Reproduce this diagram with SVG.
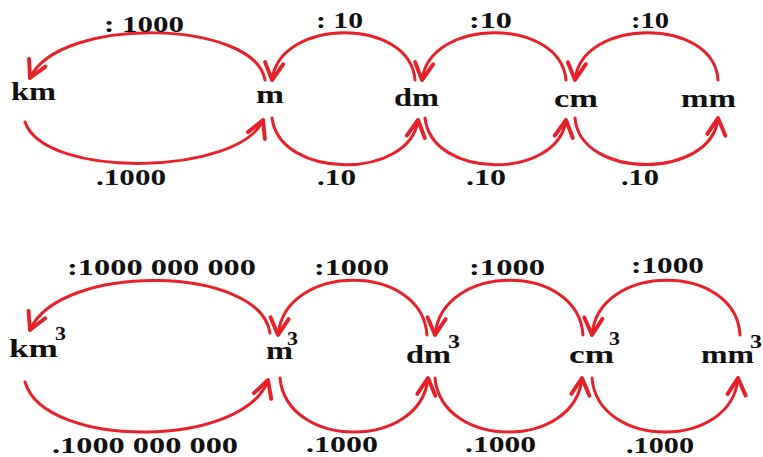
<svg xmlns="http://www.w3.org/2000/svg" width="763" height="457" viewBox="0 0 763 457">
<defs>
<style>
.t{font-family:"Liberation Serif","Times New Roman",serif;font-weight:bold;font-size:23px;fill:#111;}
.n{font-family:"Liberation Serif","Times New Roman",serif;font-weight:bold;font-size:25px;fill:#111;}
.s{font-family:"Liberation Serif","Times New Roman",serif;font-weight:bold;font-size:18px;fill:#111;}
.c{fill:none;stroke:#e8202a;stroke-width:3;stroke-linecap:round;marker-end:url(#ah);}
</style>
<marker id="ah" markerUnits="userSpaceOnUse" markerWidth="26" markerHeight="26" viewBox="-16 -10 20 20" refX="0" refY="0" orient="auto">
<path d="M -13 -7 L 0 0 L -13 7" fill="none" stroke="#e8202a" stroke-width="3" stroke-linecap="round" stroke-linejoin="round"/>
</marker>
</defs>
<rect width="763" height="457" fill="#fff"/>
<g id="connectors">
<g id="e-m-km"><path class="c" d="M 265 80 C 255 20, 60 15, 30 78"/><text class="t" x="104" y="32" textLength="80" lengthAdjust="spacingAndGlyphs">: 1000</text></g>
<g id="e-km-m"><path class="c" d="M 25 122 C 45 180, 240 175, 263 120"/><text class="t" x="96" y="185" textLength="70" lengthAdjust="spacingAndGlyphs">.1000</text></g>
<g id="e-dm-m"><path class="c" d="M 415 80 C 410 17, 280 17, 272 80"/><text class="t" x="316" y="28" textLength="47" lengthAdjust="spacingAndGlyphs">: 10</text></g>
<g id="e-m-dm"><path class="c" d="M 272 118 C 280 180, 410 180, 418 120"/><text class="t" x="317" y="185" textLength="39" lengthAdjust="spacingAndGlyphs">.10</text></g>
<g id="e-cm-dm"><path class="c" d="M 566 80 C 560 17, 430 17, 422 80"/><text class="t" x="469" y="28" textLength="43" lengthAdjust="spacingAndGlyphs">:10</text></g>
<g id="e-dm-cm"><path class="c" d="M 425 118 C 432 180, 558 180, 566 120"/><text class="t" x="466" y="185" textLength="40" lengthAdjust="spacingAndGlyphs">.10</text></g>
<g id="e-mm-cm"><path class="c" d="M 718 80 C 714 17, 582 17, 575 80"/><text class="t" x="631" y="28" textLength="38" lengthAdjust="spacingAndGlyphs">:10</text></g>
<g id="e-cm-mm"><path class="c" d="M 575 118 C 580 180, 712 180, 718 118"/><text class="t" x="621" y="185" textLength="38" lengthAdjust="spacingAndGlyphs">.10</text></g>
<g id="e-m3-km3"><path class="c" d="M 270 333 C 260 265, 60 262, 30 330"/><text class="t" x="67" y="275" textLength="189" lengthAdjust="spacingAndGlyphs">:1000 000 000</text></g>
<g id="e-km3-m3"><path class="c" d="M 25 382 C 45 450, 245 448, 268 380"/><text class="t" x="52" y="453" textLength="186" lengthAdjust="spacingAndGlyphs">.1000 000 000</text></g>
<g id="e-dm3-m3"><path class="c" d="M 427 335 C 422 262, 285 262, 278 335"/><text class="t" x="314" y="275" textLength="75" lengthAdjust="spacingAndGlyphs">:1000</text></g>
<g id="e-m3-dm3"><path class="c" d="M 280 378 C 287 450, 421 450, 428 378"/><text class="t" x="306" y="452" textLength="72" lengthAdjust="spacingAndGlyphs">.1000</text></g>
<g id="e-cm3-dm3"><path class="c" d="M 583 335 C 578 262, 442 262, 435 335"/><text class="t" x="469" y="275" textLength="76" lengthAdjust="spacingAndGlyphs">:1000</text></g>
<g id="e-dm3-cm3"><path class="c" d="M 435 378 C 442 450, 575 450, 582 378"/><text class="t" x="465" y="452" textLength="71" lengthAdjust="spacingAndGlyphs">.1000</text></g>
<g id="e-mm3-cm3"><path class="c" d="M 740 335 C 736 262, 598 262, 592 335"/><text class="t" x="631" y="273" textLength="73" lengthAdjust="spacingAndGlyphs">:1000</text></g>
<g id="e-cm3-mm3"><path class="c" d="M 592 378 C 598 450, 732 450, 738 378"/><text class="t" x="626" y="453" textLength="68" lengthAdjust="spacingAndGlyphs">.1000</text></g>
</g>
<g id="n-km"><text class="n" x="11" y="100" textLength="45" lengthAdjust="spacingAndGlyphs">km</text></g>
<g id="n-m"><text class="n" x="256" y="103" textLength="28" lengthAdjust="spacingAndGlyphs">m</text></g>
<g id="n-dm"><text class="n" x="394" y="106" textLength="45" lengthAdjust="spacingAndGlyphs">dm</text></g>
<g id="n-cm"><text class="n" x="554" y="107" textLength="44" lengthAdjust="spacingAndGlyphs">cm</text></g>
<g id="n-mm"><text class="n" x="681" y="107" textLength="55" lengthAdjust="spacingAndGlyphs">mm</text></g>
<g id="n-km3"><text class="n" x="9" y="357" textLength="49" lengthAdjust="spacingAndGlyphs">km</text><text class="s" x="55" y="340" textLength="11" lengthAdjust="spacingAndGlyphs">3</text></g>
<g id="n-m3"><text class="n" x="266" y="359" textLength="27" lengthAdjust="spacingAndGlyphs">m</text><text class="s" x="287" y="345" textLength="11" lengthAdjust="spacingAndGlyphs">3</text></g>
<g id="n-dm3"><text class="n" x="406" y="363" textLength="45" lengthAdjust="spacingAndGlyphs">dm</text><text class="s" x="448" y="348" textLength="12" lengthAdjust="spacingAndGlyphs">3</text></g>
<g id="n-cm3"><text class="n" x="569" y="363" textLength="45" lengthAdjust="spacingAndGlyphs">cm</text><text class="s" x="609" y="345" textLength="11" lengthAdjust="spacingAndGlyphs">3</text></g>
<g id="n-mm3"><text class="n" x="701" y="363" textLength="53" lengthAdjust="spacingAndGlyphs">mm</text><text class="s" x="750" y="348" textLength="12" lengthAdjust="spacingAndGlyphs">3</text></g>
</svg>
